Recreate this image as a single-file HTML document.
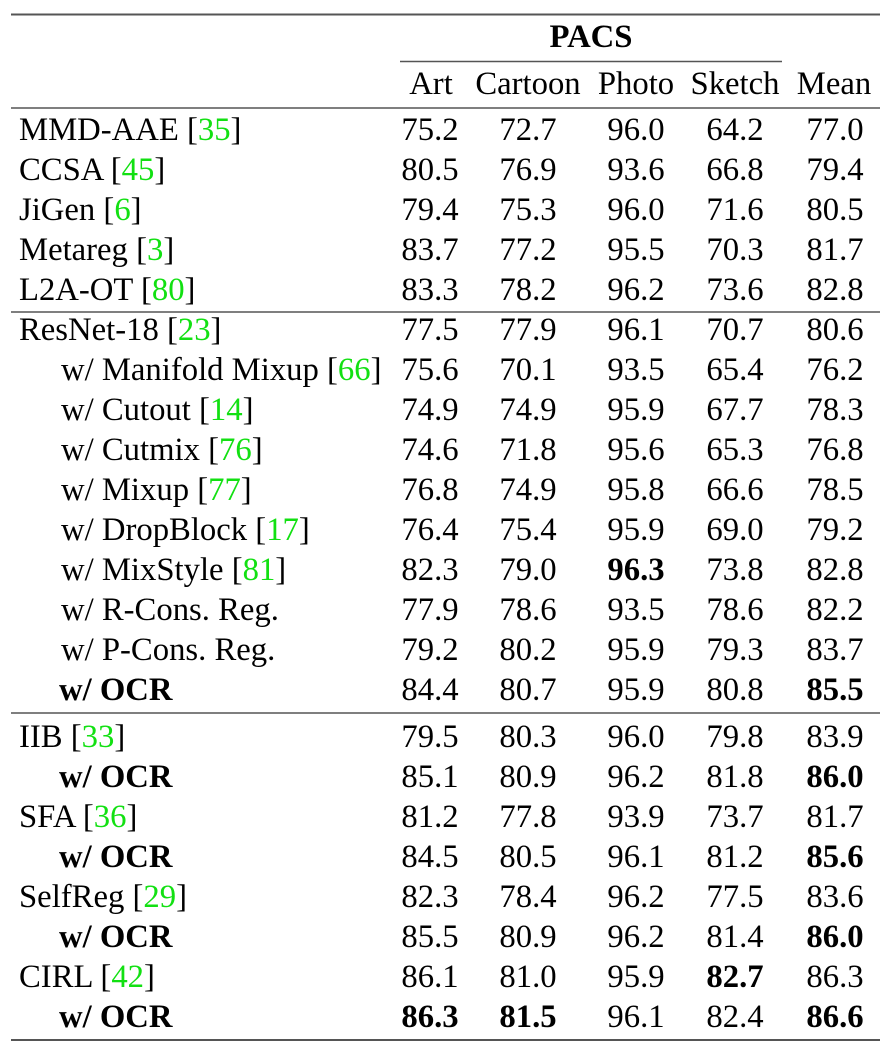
<!DOCTYPE html>
<html><head><meta charset="utf-8"><style>
html,body{margin:0;padding:0;background:#fff;}
svg{display:block;}
text{font-family:"Liberation Serif","Times New Roman",serif;font-size:32.7px;fill:#000;}
.b{font-weight:bold;}
.g{fill:#12e012;}
.n{text-anchor:middle;}
</style></head><body>
<svg width="891" height="1051" viewBox="0 0 891 1051" xmlns="http://www.w3.org/2000/svg">
<g stroke="#555" fill="none">
<line x1="11" y1="14.5" x2="880" y2="14.5" stroke-width="2"/>
<line x1="400" y1="61.5" x2="782" y2="61.5" stroke-width="1.4"/>
<line x1="11" y1="108" x2="880" y2="108" stroke-width="1.6"/>
<line x1="11" y1="312" x2="880" y2="312" stroke-width="1.6"/>
<line x1="11" y1="713" x2="880" y2="713" stroke-width="1.6"/>
<line x1="11" y1="1040" x2="880" y2="1040" stroke-width="2"/>
</g>
<text class="b n" x="591" y="47">PACS</text>
<text class="n" x="431" y="94">Art</text>
<text class="n" x="528" y="94">Cartoon</text>
<text class="n" x="636" y="94">Photo</text>
<text class="n" x="735" y="94">Sketch</text>
<text class="n" x="834" y="94">Mean</text>

<!-- group 1 -->
<text x="19" y="140">MMD-AAE [<tspan class="g">35</tspan>]</text>
<text class="n" x="430" y="140">75.2</text><text class="n" x="528" y="140">72.7</text><text class="n" x="636" y="140">96.0</text><text class="n" x="735" y="140">64.2</text><text class="n" x="835" y="140">77.0</text>
<text x="19" y="180">CCSA [<tspan class="g">45</tspan>]</text>
<text class="n" x="430" y="180">80.5</text><text class="n" x="528" y="180">76.9</text><text class="n" x="636" y="180">93.6</text><text class="n" x="735" y="180">66.8</text><text class="n" x="835" y="180">79.4</text>
<text x="19" y="220">JiGen [<tspan class="g">6</tspan>]</text>
<text class="n" x="430" y="220">79.4</text><text class="n" x="528" y="220">75.3</text><text class="n" x="636" y="220">96.0</text><text class="n" x="735" y="220">71.6</text><text class="n" x="835" y="220">80.5</text>
<text x="19" y="260">Metareg [<tspan class="g">3</tspan>]</text>
<text class="n" x="430" y="260">83.7</text><text class="n" x="528" y="260">77.2</text><text class="n" x="636" y="260">95.5</text><text class="n" x="735" y="260">70.3</text><text class="n" x="835" y="260">81.7</text>
<text x="19" y="300">L2A-OT [<tspan class="g">80</tspan>]</text>
<text class="n" x="430" y="300">83.3</text><text class="n" x="528" y="300">78.2</text><text class="n" x="636" y="300">96.2</text><text class="n" x="735" y="300">73.6</text><text class="n" x="835" y="300">82.8</text>

<!-- group 2 -->
<text x="19" y="340">ResNet-18 [<tspan class="g">23</tspan>]</text>
<text class="n" x="430" y="340">77.5</text><text class="n" x="528" y="340">77.9</text><text class="n" x="636" y="340">96.1</text><text class="n" x="735" y="340">70.7</text><text class="n" x="835" y="340">80.6</text>
<text x="61" y="380">w/ Manifold Mixup [<tspan class="g">66</tspan>]</text>
<text class="n" x="430" y="380">75.6</text><text class="n" x="528" y="380">70.1</text><text class="n" x="636" y="380">93.5</text><text class="n" x="735" y="380">65.4</text><text class="n" x="835" y="380">76.2</text>
<text x="61" y="420">w/ Cutout [<tspan class="g">14</tspan>]</text>
<text class="n" x="430" y="420">74.9</text><text class="n" x="528" y="420">74.9</text><text class="n" x="636" y="420">95.9</text><text class="n" x="735" y="420">67.7</text><text class="n" x="835" y="420">78.3</text>
<text x="61" y="460">w/ Cutmix [<tspan class="g">76</tspan>]</text>
<text class="n" x="430" y="460">74.6</text><text class="n" x="528" y="460">71.8</text><text class="n" x="636" y="460">95.6</text><text class="n" x="735" y="460">65.3</text><text class="n" x="835" y="460">76.8</text>
<text x="61" y="500">w/ Mixup [<tspan class="g">77</tspan>]</text>
<text class="n" x="430" y="500">76.8</text><text class="n" x="528" y="500">74.9</text><text class="n" x="636" y="500">95.8</text><text class="n" x="735" y="500">66.6</text><text class="n" x="835" y="500">78.5</text>
<text x="61" y="540">w/ DropBlock [<tspan class="g">17</tspan>]</text>
<text class="n" x="430" y="540">76.4</text><text class="n" x="528" y="540">75.4</text><text class="n" x="636" y="540">95.9</text><text class="n" x="735" y="540">69.0</text><text class="n" x="835" y="540">79.2</text>
<text x="61" y="580">w/ MixStyle [<tspan class="g">81</tspan>]</text>
<text class="n" x="430" y="580">82.3</text><text class="n" x="528" y="580">79.0</text><text class="n b" x="636" y="580">96.3</text><text class="n" x="735" y="580">73.8</text><text class="n" x="835" y="580">82.8</text>
<text x="61" y="620">w/ R-Cons. Reg.</text>
<text class="n" x="430" y="620">77.9</text><text class="n" x="528" y="620">78.6</text><text class="n" x="636" y="620">93.5</text><text class="n" x="735" y="620">78.6</text><text class="n" x="835" y="620">82.2</text>
<text x="61" y="660">w/ P-Cons. Reg.</text>
<text class="n" x="430" y="660">79.2</text><text class="n" x="528" y="660">80.2</text><text class="n" x="636" y="660">95.9</text><text class="n" x="735" y="660">79.3</text><text class="n" x="835" y="660">83.7</text>
<text class="b" x="59" y="700">w/ OCR</text>
<text class="n" x="430" y="700">84.4</text><text class="n" x="528" y="700">80.7</text><text class="n" x="636" y="700">95.9</text><text class="n" x="735" y="700">80.8</text><text class="n b" x="835" y="700">85.5</text>

<!-- group 3 -->
<text x="19" y="747">IIB [<tspan class="g">33</tspan>]</text>
<text class="n" x="430" y="747">79.5</text><text class="n" x="528" y="747">80.3</text><text class="n" x="636" y="747">96.0</text><text class="n" x="735" y="747">79.8</text><text class="n" x="835" y="747">83.9</text>
<text class="b" x="59" y="787">w/ OCR</text>
<text class="n" x="430" y="787">85.1</text><text class="n" x="528" y="787">80.9</text><text class="n" x="636" y="787">96.2</text><text class="n" x="735" y="787">81.8</text><text class="n b" x="835" y="787">86.0</text>
<text x="19" y="827">SFA [<tspan class="g">36</tspan>]</text>
<text class="n" x="430" y="827">81.2</text><text class="n" x="528" y="827">77.8</text><text class="n" x="636" y="827">93.9</text><text class="n" x="735" y="827">73.7</text><text class="n" x="835" y="827">81.7</text>
<text class="b" x="59" y="867">w/ OCR</text>
<text class="n" x="430" y="867">84.5</text><text class="n" x="528" y="867">80.5</text><text class="n" x="636" y="867">96.1</text><text class="n" x="735" y="867">81.2</text><text class="n b" x="835" y="867">85.6</text>
<text x="19" y="907">SelfReg [<tspan class="g">29</tspan>]</text>
<text class="n" x="430" y="907">82.3</text><text class="n" x="528" y="907">78.4</text><text class="n" x="636" y="907">96.2</text><text class="n" x="735" y="907">77.5</text><text class="n" x="835" y="907">83.6</text>
<text class="b" x="59" y="947">w/ OCR</text>
<text class="n" x="430" y="947">85.5</text><text class="n" x="528" y="947">80.9</text><text class="n" x="636" y="947">96.2</text><text class="n" x="735" y="947">81.4</text><text class="n b" x="835" y="947">86.0</text>
<text x="19" y="987">CIRL [<tspan class="g">42</tspan>]</text>
<text class="n" x="430" y="987">86.1</text><text class="n" x="528" y="987">81.0</text><text class="n" x="636" y="987">95.9</text><text class="n b" x="735" y="987">82.7</text><text class="n" x="835" y="987">86.3</text>
<text class="b" x="59" y="1027">w/ OCR</text>
<text class="n b" x="430" y="1027">86.3</text><text class="n b" x="528" y="1027">81.5</text><text class="n" x="636" y="1027">96.1</text><text class="n" x="735" y="1027">82.4</text><text class="n b" x="835" y="1027">86.6</text>
</svg>
</body></html>
